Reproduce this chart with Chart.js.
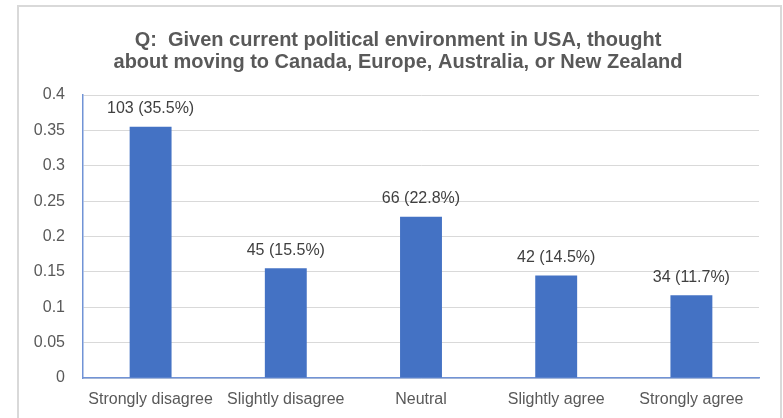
<!DOCTYPE html>
<html lang="en">
<head>
    <meta charset="UTF-8">
    <title>Moving abroad survey</title>
    <script src="https://cdn.jsdelivr.net/npm/chart.js"></script>
    <style>
        body { margin: 0; background: #fff; overflow: hidden; }
        #frame {
            position: absolute; left: 17px; top: 5px; width: 761px; height: 500px;
            border: 2px solid #d9d9d9; border-bottom: none;
        }
        canvas { position: absolute; left: 0; top: 0; }
    </style>
</head>
<body>
    <div id="frame"></div>
    <canvas id="surveyChart" width="783" height="418"></canvas>

    <script>
        const answers = ["Strongly disagree", "Slightly disagree", "Neutral", "Slightly agree", "Strongly agree"];
        const shares = [0.355, 0.155, 0.228, 0.145, 0.117];
        const counts = [103, 45, 66, 42, 34];
        const barLabels = ["103 (35.5%)", "45 (15.5%)", "66 (22.8%)", "42 (14.5%)", "34 (11.7%)"];
        const titleLines = ["Q:  Given current political environment in USA, thought",
                            "about moving to Canada, Europe, Australia, or New Zealand"];

        const fontFamily = "'Liberation Sans', Arial, sans-serif";

        // writes "count (pct)" above each bar
        const barText = {
            id: "barText",
            afterDatasetsDraw(chart) {
                const ctx = chart.ctx;
                const meta = chart.getDatasetMeta(0);
                ctx.save();
                ctx.font = "16px " + fontFamily;
                ctx.fillStyle = "#404040";
                ctx.textAlign = "center";
                ctx.textBaseline = "middle";
                meta.data.forEach((bar, i) => {
                    ctx.fillText(barLabels[i], bar.x, bar.y - 18);
                });
                ctx.restore();
            }
        };

        // title sits centred on the outer frame, not on the canvas
        const frameTitle = {
            id: "frameTitle",
            afterDraw(chart) {
                const ctx = chart.ctx;
                ctx.save();
                ctx.font = "bold 20px " + fontFamily;
                ctx.fillStyle = "#595959";
                ctx.textAlign = "center";
                ctx.textBaseline = "middle";
                titleLines.forEach((line, i) => ctx.fillText(line, 398, 40 + i * 22));
                ctx.restore();
            }
        };

        const ctx = document.getElementById("surveyChart").getContext("2d");
        new Chart(ctx, {
            type: "bar",
            data: {
                labels: answers,
                datasets: [{
                    label: "Share",
                    data: shares,
                    backgroundColor: "#4472C4",
                    categoryPercentage: 1,
                    barPercentage: 0.31
                }]
            },
            options: {
                responsive: false,
                animation: false,
                devicePixelRatio: 1,
                layout: { padding: { left: 0, right: 24, top: 95, bottom: 0 } },
                plugins: {
                    legend: { display: false },
                    tooltip: { enabled: false },
                    title: { display: false }
                },
                scales: {
                    x: {
                        grid: { display: false, drawTicks: false },
                        border: { color: "#7193d6", width: 1.5 },
                        ticks: {
                            color: "#595959",
                            font: { family: fontFamily, size: 16 },
                            padding: 12,
                            maxRotation: 0,
                            autoSkip: false
                        },
                        afterFit(scale) { scale.height = 40; }
                    },
                    y: {
                        min: 0,
                        max: 0.4,
                        grid: { color: "#d9d9d9", drawTicks: false },
                        border: { color: "#7193d6", width: 1.5 },
                        ticks: {
                            stepSize: 0.05,
                            color: "#595959",
                            font: { family: fontFamily, size: 16 },
                            padding: 18,
                            callback: v => String(Math.round(v * 100) / 100)
                        },
                        afterFit(scale) { scale.width = 83; }
                    }
                }
            },
            plugins: [barText, frameTitle]
        });
    </script>
</body>
</html>
